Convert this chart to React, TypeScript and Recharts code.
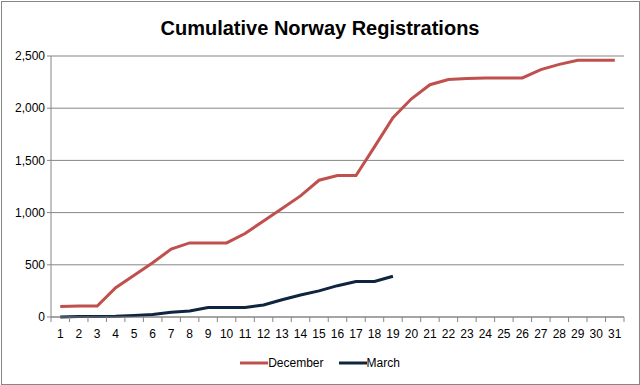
import React from "react";
import { LineChart, Line, XAxis, YAxis, CartesianGrid, Legend } from "recharts";

const days = Array.from({ length: 31 }, (_, i) => String(i + 1));
const december = [100, 105, 105, 280, 400, 520, 650, 710, 710, 710, 800, 920, 1040, 1160, 1310, 1355, 1355, 1630, 1910, 2090, 2225, 2275, 2285, 2290, 2290, 2290, 2370, 2420, 2460, 2460, 2460];
const march = [0, 5, 5, 8, 15, 25, 45, 58, 90, 90, 90, 115, 165, 210, 250, 300, 340, 340, 390];
const yTicks = [0, 500, 1000, 1500, 2000, 2500];

const data = days.map((d, i) => ({
  day: d,
  December: december[i],
  March: i < march.length ? march[i] : null,
}));

const FONT = "'Liberation Sans', Arial, sans-serif";
const GRID = "#868686";
const PLOT_LEFT = 51;
const PLOT_RIGHT = 624;
const HALF_BAND = (PLOT_RIGHT - PLOT_LEFT) / days.length / 2;

const renderLegend = (props: any) => {
  const { payload } = props;
  return (
    <div style={{ display: "flex", justifyContent: "center", alignItems: "center", fontFamily: FONT, fontSize: 12, color: "#000", height: 22 }}>
      {payload.map((p: any, i: number) => (
        <div key={i} style={{ display: "flex", alignItems: "center", marginRight: i === 0 ? 15 : 0 }}>
          <svg width={28} height={6}><line x1={0} y1={3} x2={28} y2={3} stroke={p.color} strokeWidth={3} /></svg>
          <span>{p.value}</span>
        </div>
      ))}
    </div>
  );
};

const XTick = (props: any) => {
  const { x, y, payload, index } = props;
  const axisY = y - 12;
  return (
    <g>
      <line x1={x - HALF_BAND} y1={axisY} x2={x - HALF_BAND} y2={axisY + 5} stroke={GRID} />
      {index === days.length - 1 && (
        <line x1={x + HALF_BAND} y1={axisY} x2={x + HALF_BAND} y2={axisY + 5} stroke={GRID} />
      )}
      <text x={x} y={y} dy="0.71em" textAnchor="middle" fill="#000" style={{ fontFamily: FONT, fontSize: 12 }}>
        {payload.value}
      </text>
    </g>
  );
};

export default function App() {
  return (
    <div style={{ position: "absolute", left: 0, top: 0, width: 640, height: 385, background: "#fff" }}>
      <div style={{ position: "absolute", left: 1, top: 1, width: 637, height: 382, border: "1px solid #868686", boxSizing: "content-box" }} />
      <LineChart width={640} height={385} data={data} margin={{ top: 56, right: 16, bottom: 11, left: 0 }}>
        <text x={320} y={35} textAnchor="middle" style={{ fontFamily: FONT, fontWeight: "bold", fontSize: 20 }} fill="#000">
          Cumulative Norway Registrations
        </text>
        <CartesianGrid vertical={false} stroke={GRID} strokeWidth={1} />
        <XAxis
          dataKey="day"
          scale="band"
          height={35}
          interval={0}
          stroke={GRID}
          tickLine={false}
          tickSize={0}
          tickMargin={12}
          tick={<XTick />}
        />
        <YAxis
          width={51}
          domain={[0, 2500]}
          ticks={yTicks}
          stroke={GRID}
          tickSize={4}
          tick={{ fill: "#000", fontSize: 12, fontFamily: FONT }}
          tickFormatter={(v: number) => v.toLocaleString("en-US")}
        />
        <Legend verticalAlign="bottom" height={22} content={renderLegend} wrapperStyle={{ left: 0, width: 640 }} />
        <Line type="linear" dataKey="December" stroke="#C0504D" strokeWidth={3} dot={false} isAnimationActive={false} />
        <Line type="linear" dataKey="March" stroke="#0F243E" strokeWidth={3} dot={false} isAnimationActive={false} connectNulls={false} />
      </LineChart>
    </div>
  );
}
